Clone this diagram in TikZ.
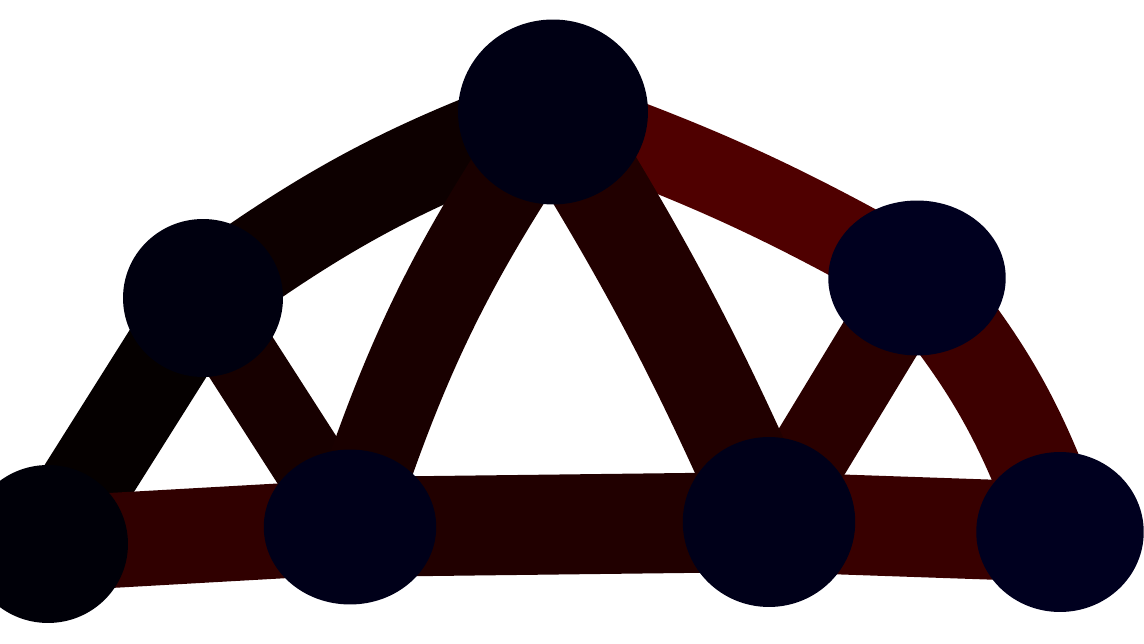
\documentclass[tikz,border=0pt]{standalone}
\usepackage{tikz}
\usetikzlibrary{backgrounds,shapes.geometric}

\begin{document}
\begin{tikzpicture}[x=0.02cm, y=-0.02cm,
    joint/.style={ellipse, fill=#1, inner sep=0pt},
    bar/.style={line width=1.8cm, line cap=round, draw=#1}]
        \useasboundingbox (0,0) rectangle (1144,644);
        % joints
        \node[joint=blue!3!black, minimum width=3.2cm, minimum height=3.16cm] (j1) at (48,544) {};
        \node[joint=blue!6!black, minimum width=3.2cm, minimum height=3.16cm] (j2) at (203,298) {};
        \node[joint=blue!8!black, minimum width=3.8cm, minimum height=3.7cm] (j3) at (553,112) {};
        \node[joint=blue!12!black, minimum width=3.55cm, minimum height=3.1cm] (j4) at (917,278) {};
        \node[joint=blue!10!black, minimum width=3.45cm, minimum height=3.1cm] (j5) at (350,527) {};
        \node[joint=blue!10!black, minimum width=3.45cm, minimum height=3.4cm] (j6) at (769,522) {};
        \node[joint=blue!12!black, minimum width=3.35cm, minimum height=3.2cm] (j7) at (1060,532) {};
        % bars
        \begin{scope}[on background layer]
          \foreach \a/\b/\c/\w in {j1/j2/2/1.8, j1/j5/19/1.9, j5/j6/13/2.0, j6/j7/22/2.0, j2/j5/9/1.5, j6/j4/16/1.6}{
            \draw[bar=red!\c!black, line width=\w cm] (\a.center) -- (\b.center);
          }
          \draw[bar=red!5!black] (j2.center) to[bend left=8] (j3.center);
          \draw[bar=red!31!black, line width=1.6cm] (j3.center) to[bend left=5] (j4.center);
          \draw[bar=red!24!black] (j4.center) to[bend left=10] (j7.center);
          \draw[bar=red!10!black, line width=1.7cm] (j5.center) to[bend left=8] (j3.center);
          \draw[bar=red!13!black, line width=1.9cm] (j3.center) to[bend left=4] (j6.center);
        \end{scope}
      \end{tikzpicture}
\end{document}
